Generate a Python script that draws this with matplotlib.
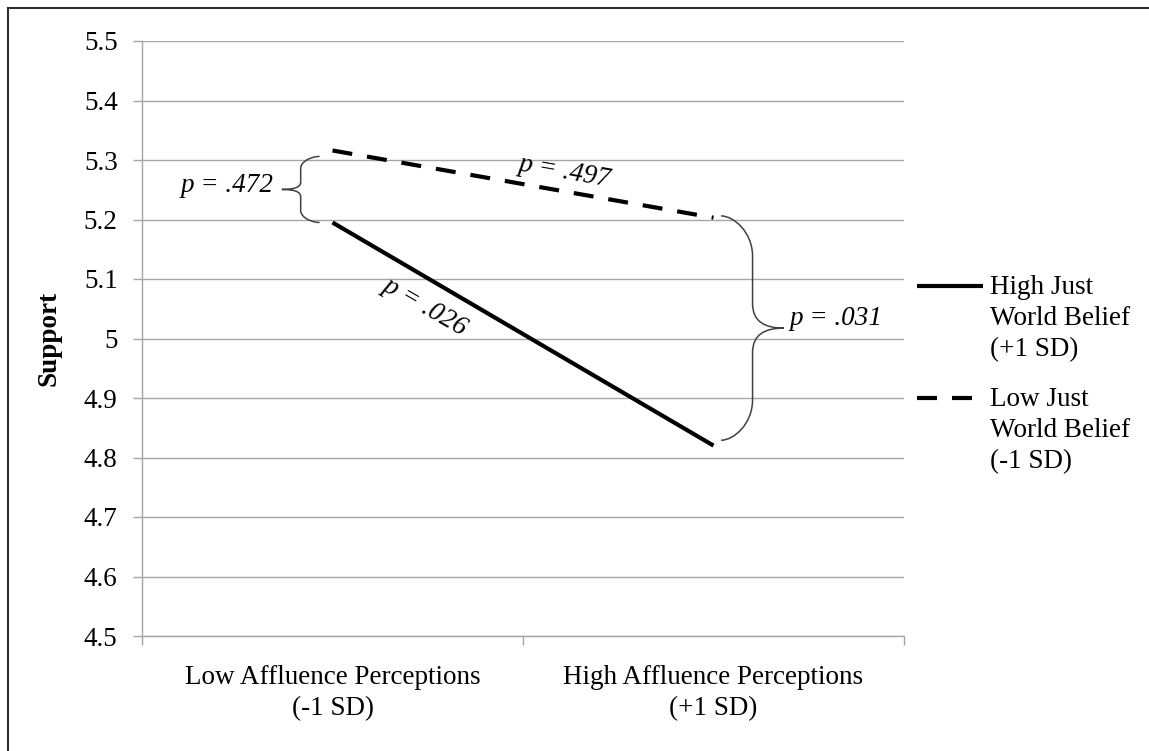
import matplotlib.pyplot as plt
import numpy as np
from matplotlib.path import Path
from matplotlib.patches import PathPatch
from matplotlib.lines import Line2D

plt.rcParams['font.family'] = ['Liberation Serif', 'DejaVu Serif']
plt.rcParams['font.size'] = 19.5

# data
categories = ['Low Affluence Perceptions\n(-1 SD)', 'High Affluence Perceptions\n(+1 SD)']
high_jwb = [5.195, 4.820]   # High Just World Belief (+1 SD)
low_jwb = [5.316, 5.203]    # Low Just World Belief (-1 SD)
high_label = 'High Just\nWorld Belief\n(+1 SD)'
low_label = 'Low Just\nWorld Belief\n(-1 SD)'
yticks = [4.5, 4.6, 4.7, 4.8, 4.9, 5.0, 5.1, 5.2, 5.3, 5.4, 5.5]

grid_color = '#a6a6a6'
brace_color = '#404040'
dash_pat = (4.8, 3.6)

W, H = 1149, 751
fig = plt.figure(figsize=(W / 100, H / 100), dpi=100)
ax = fig.add_axes([142 / W, 1 - 636 / H, (904 - 142) / W, (636 - 41) / H])

x = np.arange(len(categories))
ax.plot(x, high_jwb, color='black', lw=3, solid_capstyle='butt', zorder=3)
ax.plot(x, low_jwb, color='black', lw=3, dashes=dash_pat, dash_capstyle='butt', zorder=3)

ax.set_xlim(-0.5, 1.5)
ax.set_ylim(4.5, 5.5)
ax.set_yticks(yticks)
ax.set_yticklabels([f'{v:g}' for v in yticks])
ax.yaxis.grid(True, color=grid_color, lw=1.0)
ax.set_axisbelow(True)

ax.set_xticks([-0.5, 0.5, 1.5])
ax.set_xticklabels([])
ax.set_xticks(x, minor=True)
ax.set_xticklabels(categories, minor=True, linespacing=1.32)
ax.tick_params(axis='x', which='major', length=6.5, color=grid_color, width=1)
ax.tick_params(axis='x', which='minor', length=0, pad=21)
ax.tick_params(axis='y', length=6.5, color=grid_color, width=1, pad=11)

for s in ['top', 'right']:
    ax.spines[s].set_visible(False)
for s in ['left', 'bottom']:
    ax.spines[s].set_color(grid_color)
    ax.spines[s].set_linewidth(1.0)

ax.set_ylabel('Support', fontweight='bold')
ax.yaxis.set_label_coords(-0.106, 0.5)


def brace(ax, xb, y_top, y_bot, depth):
    # curly brace with ends at xb, pointing towards xb + depth
    h = y_top - y_bot
    xm = xb + depth * 0.5
    xt = xb + depth
    ym = (y_top + y_bot) / 2
    c = 0.18 * h
    t = 0.11 * h
    verts = [
        (xb, y_top), (xm - depth * 0.3, y_top), (xm, y_top - c * 0.4), (xm, y_top - c),
        (xm, ym + t),
        (xm, ym + t * 0.25), (xt - depth * 0.3, ym), (xt, ym),
        (xt - depth * 0.3, ym), (xm, ym - t * 0.25), (xm, ym - t),
        (xm, y_bot + c),
        (xm, y_bot + c * 0.4), (xm - depth * 0.3, y_bot), (xb, y_bot),
    ]
    codes = [Path.MOVETO, Path.CURVE4, Path.CURVE4, Path.CURVE4,
             Path.LINETO,
             Path.CURVE4, Path.CURVE4, Path.CURVE4,
             Path.CURVE4, Path.CURVE4, Path.CURVE4,
             Path.LINETO,
             Path.CURVE4, Path.CURVE4, Path.CURVE4]
    ax.add_patch(PathPatch(Path(verts, codes), fill=False, ec=brace_color,
                           lw=1.1, clip_on=False, zorder=4))


brace(ax, -0.034, low_jwb[0] - 0.010, high_jwb[0], -0.099)
brace(ax, 1.020, low_jwb[1] + 0.003, high_jwb[1] + 0.009, 0.165)

ax.text(-0.155, 5.257, 'p = .472', style='italic', ha='right', va='center')
ax.text(0.609, 5.280, 'p = .497', style='italic', ha='center', va='center',
        rotation=-10, rotation_mode='anchor')
ax.text(0.243, 5.054, 'p = .026', style='italic', ha='center', va='center',
        rotation=-30, rotation_mode='anchor')
ax.text(1.199, 5.034, 'p = .031', style='italic', ha='left', va='center')

# legend drawn at the right
fig.add_artist(Line2D([917 / W, 983 / W], [1 - 286 / H] * 2, color='black', lw=3,
                      solid_capstyle='butt'))
fig.add_artist(Line2D([917 / W, 972 / W], [1 - 398 / H] * 2, color='black', lw=3,
                      dashes=dash_pat, dash_capstyle='butt'))
fig.text(990 / W, 1 - 275 / H, high_label, ha='left', va='top', linespacing=1.32)
fig.text(990 / W, 1 - 387 / H, low_label, ha='left', va='top', linespacing=1.32)

# chart frame
fig.add_artist(Line2D([8 / W, 8 / W], [0, 1 - 8 / H], color='#303030', lw=1.5))
fig.add_artist(Line2D([8 / W, 1], [1 - 8 / H, 1 - 8 / H], color='#303030', lw=1.5))

fig.savefig('out.png', dpi=100)
